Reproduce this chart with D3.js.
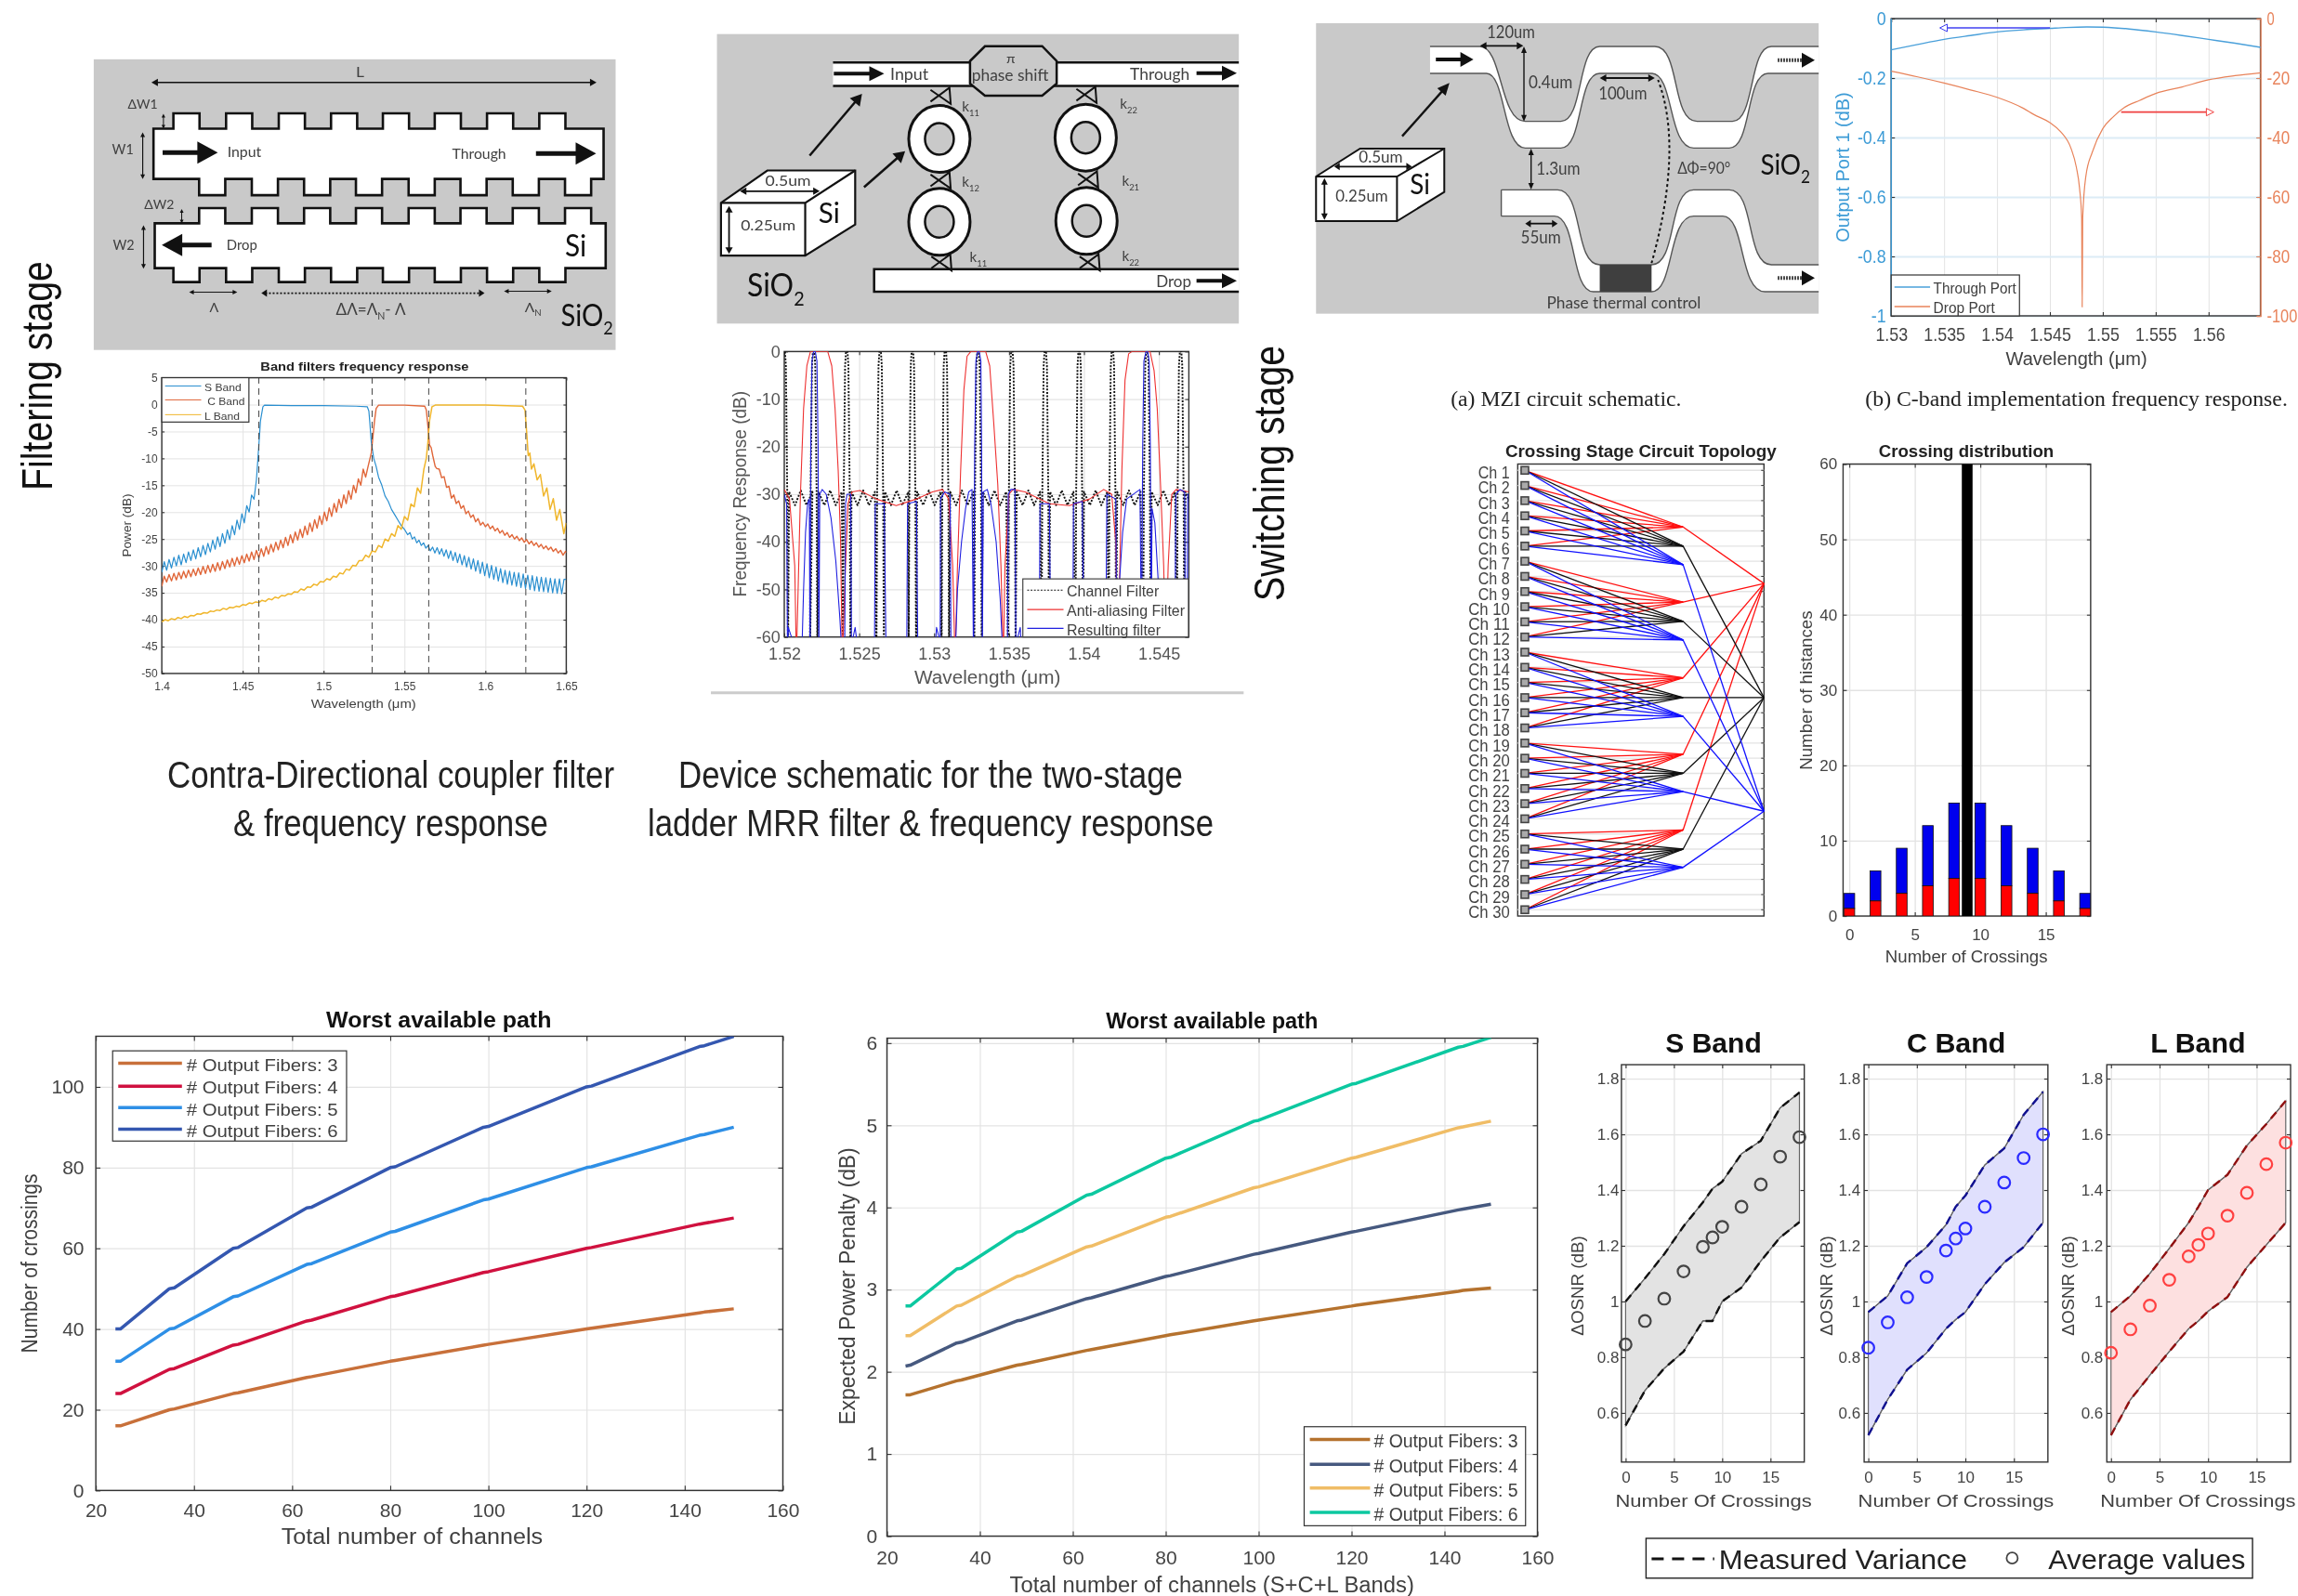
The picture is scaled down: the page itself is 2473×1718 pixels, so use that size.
<!DOCTYPE html>
<html><head><meta charset="utf-8">
<script src="https://cdnjs.cloudflare.com/ajax/libs/d3/7.8.5/d3.min.js"></script>
<style>html,body{margin:0;padding:0;background:#fff}svg{display:block;filter:blur(0.5px)}text{font-family:"Liberation Sans",Arial,sans-serif}</style>
</head><body><svg id="c" width="2473" height="1718"></svg>
<script>
// ---------- DATA ----------
const bandLegend=["S Band","C Band","L Band"];
const bandEdges=[1.46,1.53,1.565,1.625];
const sLeftRipple=[-31.2,-29.2,-30.8,-28.8,-30.4,-28.4,-30,-28,-29.8,-27.8,-29.4,-27.4,-29,-27,-28.7,-26.6,-28.3,-26.2,-27.9,-25.8,-27.4,-25.2,-26.9,-24.6,-26.4,-24,-25.8,-23.3,-25.1,-22.5,-24.2,-21.5,-23.2,-20.3,-22,-18.8,-20,-16.8,-17.6,-14];
const sMiddle=[[1.46,-7.5],[1.461,-3],[1.4625,-0.4],[1.4635,-0.1],[1.48,-0.2],[1.5,-0.2],[1.52,-0.3],[1.527,-0.4],[1.528,-1.2],[1.5285,-3],[1.5295,-7],[1.531,-10],[1.5325,-11.5],[1.534,-13.5],[1.536,-15],[1.538,-17],[1.54,-18],[1.542,-19.5],[1.544,-20.5],[1.546,-21.5],[1.548,-22.5],[1.55,-23.2]];
const sRightRipple=[-24.2,-23.8,-25,-24.6,-25.7,-25.2,-26.2,-25.7,-26.7,-26.2,-27.2,-26.5,-27.6,-26.6,-27.8,-26.8,-28.2,-27,-28.6,-27.2,-29,-27.5,-29.4,-27.8,-29.8,-28.1,-30.2,-28.4,-30.6,-28.7,-31,-29,-31.4,-29.3,-31.8,-29.6,-32.2,-29.9,-32.5,-30.2,-32.8,-30.5,-33.1,-30.8,-33.4,-31,-33.6,-31.2,-33.8,-31.3,-34,-31.5,-34.2,-31.7,-34.4,-31.8,-34.6,-32,-34.7,-32.1,-34.8,-32.2,-34.9,-32.3,-35,-32.4,-35.1,-32.4,-35.2,-32.5,-32.5];
const cLeftRipple=[-33.8,-31.9,-33,-31.6,-32.8,-31.4,-32.6,-31.2,-32.4,-31,-32.2,-30.8,-32,-30.6,-31.8,-30.4,-31.6,-30.1,-31.4,-29.9,-31.2,-29.7,-31,-29.4,-30.8,-29.2,-30.5,-28.9,-30.2,-28.6,-30,-28.4,-29.7,-28.1,-29.4,-27.8,-29.1,-27.4,-28.8,-27.1,-28.5,-26.8,-28.2,-26.4,-27.8,-26,-27.4,-25.6,-27,-25.2,-26.6,-24.7,-26.2,-24.2,-25.7,-23.7,-25.2,-23.2,-24.7,-22.6,-24.2,-22,-23.6,-21.4,-23,-20.7,-22.3,-20,-21.6,-19.2,-20.8,-18.4,-20,-17.6,-19.2,-16.8,-18.4,-16,-17.6,-15,-16.4,-13.8,-15,-12,-13.5,-11.5];
const cMiddle=[[1.5295,-9],[1.5305,-6],[1.5315,-3],[1.5325,-0.7],[1.534,-0.1],[1.55,-0.1],[1.5625,-0.3],[1.5635,-1],[1.5645,-4],[1.5655,-7.5],[1.5665,-8],[1.5675,-9.5],[1.569,-11.5]];
const cRightRipple=[-11.9,-12,-13.6,-13.4,-15.4,-15.2,-17.4,-16.8,-18.4,-17.9,-19.3,-18.8,-20.3,-19.8,-21,-20.5,-21.8,-21.2,-22.4,-21.9,-22.7,-22.2,-23.1,-22.6,-23.5,-23,-23.9,-23.4,-24.3,-23.8,-24.7,-24.2,-25,-24.5,-25.3,-24.8,-25.6,-25.1,-25.9,-25.4,-26.2,-25.7,-26.5,-26,-26.8,-26.3,-27,-26.5,-27.3,-26.8,-27.6,-27.1,-28,-27.3,-27.6];
const lLeftRipple=[-40.4,-40,-40.2,-39.8,-40,-39.6,-39.8,-39.4,-39.6,-39.2,-39.3,-38.9,-39,-38.7,-38.8,-38.4,-38.5,-38.2,-38.3,-37.9,-38.1,-37.7,-37.8,-37.5,-37.6,-37.2,-37.3,-36.9,-37,-36.7,-36.8,-36.4,-36.6,-36.1,-36.3,-35.8,-36,-35.5,-35.6,-35.2,-35.3,-34.8,-34.9,-34.3,-34.5,-33.9,-34,-33.4,-33.6,-32.9,-33,-32.4,-32.6,-31.9,-32.1,-31.3,-31.5,-30.6,-30.8,-29.9,-30,-29,-29,-28,-28.4,-27.2,-27.4,-26.2,-26.6,-25,-25.4,-24,-24.5,-22.5,-23.2,-20.8,-21.5,-18.5,-19,-15.5,-16.5,-12];
const lRest=[[1.5635,-10],[1.5645,-7],[1.5655,-3],[1.567,-0.4],[1.569,-0.1],[1.6,-0.1],[1.623,-0.3],[1.6245,-1],[1.6255,-5],[1.6265,-9.5],[1.6275,-9],[1.6285,-12],[1.63,-11],[1.632,-14],[1.634,-13],[1.636,-17],[1.638,-15.5],[1.64,-19.5],[1.642,-17.5],[1.644,-21.5],[1.646,-19.5],[1.6485,-24],[1.65,-22]];

const channelPeaks=[1.52,1.52196,1.52417,1.5264,1.52855,1.53075,1.53293,1.53519,1.53742,1.53968,1.5419,1.5442,1.54645];
const channelOffsets=[-0.00025,-0.0002,-0.00011,-0.00005,0.00005,0.00011,0.0002,0.00025,0.00032,0.00072,0.0011,0.00148,0.00188];
const channelDb=[-65,-30,-3,0,0,-3,-30,-65,-29.5,-32.3,-29.2,-32.3,-29.5];
const antiAliasX=[1.52,1.52035,1.5207,1.52081,1.52108,1.52129,1.52151,1.52175,1.5229,1.52317,1.52339,1.5236,1.52376,1.52387,1.52409,1.52425,1.52452,1.52505,1.52613,1.52747,1.52882,1.52989,1.53056,1.53097,1.53124,1.5314,1.53156,1.53177,1.53199,1.5322,1.53245,1.53344,1.53371,1.53398,1.53425,1.53446,1.53462,1.53473,1.535,1.53527,1.53607,1.53769,1.53903,1.54038,1.54132,1.54185,1.54212,1.54226,1.54236,1.54253,1.54274,1.54298,1.5432,1.54441,1.54468,1.54489,1.54511,1.54532,1.54546,1.54562,1.54586,1.54615,1.54699];
const antiAliasDb=[-29,-31,-45,-65,-30,-12,-3,0,0,-3,-12,-25,-40,-65,-45,-32,-29.5,-29.2,-31,-32.4,-31,-29.5,-29,-31,-45,-65,-45,-25,-8,-1,0,0,-3,-15,-28,-45,-65,-45,-30,-29,-29.5,-32,-32.4,-31,-29,-30,-40,-65,-50,-25,-6,-0.5,0,0,-4,-12,-28,-45,-65,-45,-30,-29,-29.5];
const resultX=[1.52,1.52016,1.52022,1.52027,1.52048,1.52065,1.52116,1.52129,1.52142,1.52156,1.52167,1.52172,1.52177,1.52185,1.52196,1.52207,1.52218,1.52226,1.52231,1.52237,1.52253,1.5228,1.52312,1.52344,1.52371,1.52387,1.52403,1.52409,1.52419,1.52444,1.52449,1.5246,1.52473,1.52489,1.525,1.52602,1.52607,1.52667,1.5268,1.52817,1.52823,1.52882,1.52892,1.53003,1.53016,1.53032,1.5304,1.53043,1.5307,1.53107,1.53113,1.5314,1.53156,1.53183,1.5321,1.53231,1.53253,1.53263,1.53271,1.53279,1.5329,1.53301,1.53312,1.53317,1.53322,1.53328,1.53355,1.53379,1.53414,1.53441,1.5346,1.53489,1.53495,1.53513,1.5354,1.53546,1.53559,1.53575,1.53586,1.53701,1.53707,1.53769,1.53779,1.53925,1.5393,1.53989,1.54,1.54145,1.54153,1.54212,1.5422,1.54234,1.54258,1.54285,1.54374,1.54384,1.54392,1.544,1.54414,1.54425,1.54435,1.54443,1.54449,1.54454,1.54473,1.54495,1.54516,1.54607,1.54613,1.54642,1.54672,1.54677,1.54688,1.54693,1.54699];
const resultDb=[-30,-32,-65,-58,-60,-65,-65,-50,-38,-32,-31,-65,-20,-2,0,0,-2,-20,-65,-30,-29,-30,-35,-44,-56,-65,-65,-32,-30,-30,-65,-60,-58,-62,-65,-65,-32,-32,-65,-65,-32,-31.5,-65,-65,-58,-60,-65,-31,-29.5,-30,-65,-65,-50,-40,-33,-29.5,-29,-65,-20,-2,0,0,-2,-20,-65,-29.5,-29,-32,-40,-52,-65,-65,-30,-29,-29,-65,-60,-58,-65,-65,-32,-32,-65,-65,-32,-31.5,-65,-65,-30,-31,-65,-50,-38,-31,-29,-65,-20,-2,0,0,-2,-20,-65,-33,-36,-48,-65,-65,-30,-29,-29.5,-65,-65,-30,-30];
const responseLegend=["Channel Filter","Anti-aliasing Filter","Resulting filter"];

const mziX=[1.53,1.5325,1.535,1.5375,1.54,1.5425,1.545,1.5465,1.5485,1.55,1.5525,1.555,1.5575,1.56,1.5625,1.565];
const throughPort=[-0.105,-0.087,-0.07,-0.057,-0.045,-0.038,-0.033,-0.03,-0.028,-0.029,-0.035,-0.045,-0.057,-0.07,-0.083,-0.097];
const dropX=[1.53,1.5325,1.535,1.5375,1.54,1.5425,1.5435,1.545,1.546,1.547,1.5475,1.5478,1.548,1.54805,1.5481,1.5484,1.549,1.55,1.551,1.552,1.5535,1.555,1.5575,1.56,1.5625,1.565];
const dropPort=[-17.7,-19.6,-21.7,-24,-26.5,-30.2,-32.3,-35,-38,-43.7,-50,-57,-67,-97,-67,-53,-45,-37,-33,-30,-27.5,-25.2,-23,-20.6,-19.2,-18.2];

const channelLabels=d3.range(1,31).map(i=>"Ch "+i);
const channelGroups=[[1,2,3,4,5,6],[7,8,9,10,11,12],[13,14,15,16,17,18],[19,20,21,22,23,24],[25,26,27,28,29,30]];
const midNodes=[[4.74,6,7.23],[9.7,10.97,12.2],[14.7,16,17.24],[19.74,21,22.2],[24.74,26,27.2]];
const outNodes=[8.47,16,23.5];
const outColors=["#ff1010","#111111","#1010ff"];

const crossBins=[0,2,4,6,8,10,12,14,16,18];
const crossRed=[1,2,3,4,5,5,4,3,2,1];
const crossBlue=[2,4,6,8,10,10,8,6,4,2];
const crossCenterBin=9, crossCenterValue=60;

const totalChannels=[24,25,35,36,48,49,63,64,80,81,99,100,120,121,143,144,150];
const crossings3=[16,16,20,20.2,24,24.2,28,28.2,32,32.2,36,36.2,40,40.2,44,44.2,45];
const crossings4=[24,24,30,30.2,36,36.2,42,42.2,48,48.2,54,54.2,60,60.2,66,66.2,67.5];
const crossings5=[32,32,40,40.2,48,48.2,56,56.2,64,64.2,72,72.2,80,80.2,88,88.2,90];
const crossings6=[40,40,50,50.2,60,60.2,70,70.2,80,80.2,90,90.2,100,100.2,110,110.2,112.5];
const penalty3=[1.72,1.72,1.89,1.9,2.08,2.09,2.26,2.27,2.44,2.45,2.62,2.63,2.8,2.81,2.98,2.99,3.02];
const penalty4=[2.07,2.08,2.35,2.36,2.62,2.63,2.89,2.9,3.16,3.17,3.43,3.44,3.7,3.71,3.97,3.98,4.04];
const penalty5=[2.44,2.44,2.8,2.81,3.16,3.17,3.52,3.53,3.88,3.89,4.24,4.25,4.6,4.61,4.97,4.98,5.05];
const penalty6=[2.8,2.8,3.25,3.26,3.7,3.71,4.15,4.16,4.6,4.61,5.05,5.06,5.5,5.51,5.95,5.96,6.07];
const fiberLabels=["# Output Fibers: 3","# Output Fibers: 4","# Output Fibers: 5","# Output Fibers: 6"];

const osnrX=[0,2,4,6,8,9,10,12,14,16,18];
const sUpper=[1,1.083,1.17,1.27,1.356,1.405,1.43,1.53,1.577,1.695,1.75];
const sLower=[0.555,0.68,0.76,0.82,0.93,0.93,1,1.05,1.145,1.23,1.285];
const sAvg=[0.846,0.93,1.01,1.108,1.196,1.23,1.268,1.34,1.42,1.52,1.59];
const cUpper=[0.962,1.02,1.137,1.195,1.275,1.34,1.38,1.49,1.55,1.67,1.753];
const cLower=[0.52,0.648,0.755,0.815,0.902,0.935,0.962,1.062,1.14,1.195,1.283];
const cAvg=[0.834,0.925,1.015,1.088,1.183,1.226,1.262,1.34,1.427,1.515,1.6];
const lUpper=[0.962,1.02,1.1,1.19,1.283,1.34,1.4,1.455,1.56,1.637,1.72];
const lLower=[0.52,0.648,0.735,0.82,0.902,0.93,0.965,1.016,1.123,1.203,1.283];
const lAvg=[0.816,0.9,0.985,1.078,1.162,1.203,1.244,1.308,1.39,1.493,1.57];

// ---------- HELPERS ----------
const svg=d3.select("#c");
svg.append("rect").attr("width",2473).attr("height",1718).attr("fill","#fff");
const crop=(ox,oy,w,h,zw,zh)=>({X:d3.scaleLinear().domain([0,zw]).range([ox,ox+w]),Y:d3.scaleLinear().domain([0,zh]).range([oy,oy+h])});
const c1=crop(0,30,700,780,1568,1568),c2=crop(700,10,680,760,1568,1568),c3=crop(1380,0,1093,450,1568,1350),
      c4=crop(1530,460,750,590,1568,1568),c5=crop(0,1070,860,648,1568,1568),c6=crop(880,1070,800,648,1568,1568),c7=crop(1690,1090,783,628,1568,1568);
const TXT="#404040";
function fillSegs(t,segs,size){
  if(typeof segs==="string"){t.text(segs);return;}
  let prev=false;
  segs.forEach(([s,sub])=>{
    const ts=t.append("tspan").text(s);
    if(sub){ts.attr("font-size",size*0.62).attr("dy",size*0.3);}
    else if(prev){ts.attr("dy",-size*0.3);}
    prev=!!sub;
  });
}
function T(c,str,x0,x1,y,size,o={}){
  const t=svg.append("text").attr("x",c.X(x0)).attr("y",c.Y(y)).attr("dy","0.35em").attr("font-size",size)
    .attr("fill",o.fill||TXT).attr("font-weight",o.weight||null).style("font-family",o.family||null);
  if(x1!=null)t.attr("textLength",c.X(x1)-c.X(x0)).attr("lengthAdjust","spacingAndGlyphs");
  fillSegs(t,str,size);return t;
}
function RT(c,str,x,y0,y1,size,o={}){
  const cx=c.X(x),cy=(c.Y(y0)+c.Y(y1))/2;
  const t=svg.append("text").attr("transform",`translate(${cx},${cy}) rotate(-90)`).attr("text-anchor","middle").attr("dy","0.35em")
    .attr("font-size",size).attr("fill",o.fill||TXT).attr("font-weight",o.weight||null)
    .attr("textLength",Math.abs(c.Y(y1)-c.Y(y0))).attr("lengthAdjust","spacingAndGlyphs").text(str);
  return t;
}
function P(c,s){let i=0;return s.split(/\s+/).map(k=>{if(/[A-Za-z]/.test(k))return k;const v=(i++%2===0)?c.X(+k):c.Y(+k);return v.toFixed(2);}).join(" ");}
function arrow(c,x1,y1,x2,y2,o={}){
  const a={x:c.X(x1),y:c.Y(y1)},b={x:c.X(x2),y:c.Y(y2)};
  const col=o.color||"#111",sw=o.sw||1.5,hl=o.hl||7,hw=o.hw||3.5;
  const L=Math.hypot(b.x-a.x,b.y-a.y),ux=(b.x-a.x)/L,uy=(b.y-a.y)/L,nx=-uy,ny=ux;
  const inset=o.hollow?hl:hl*0.7;
  const s={x:o.both?a.x+ux*inset:a.x,y:o.both?a.y+uy*inset:a.y},e={x:b.x-ux*inset,y:b.y-uy*inset};
  const ln=svg.append("line").attr("x1",s.x).attr("y1",s.y).attr("x2",e.x).attr("y2",e.y).attr("stroke",col).attr("stroke-width",sw);
  if(o.dash)ln.attr("stroke-dasharray",o.dash);
  const head=(p,ux,uy,nx,ny)=>{
    svg.append("polygon").attr("points",[[p.x,p.y],[p.x-ux*hl+nx*hw,p.y-uy*hl+ny*hw],[p.x-ux*hl-nx*hw,p.y-uy*hl-ny*hw]].map(q=>q.join(",")).join(" "))
      .attr("fill",o.hollow?"#fff":col).attr("stroke",o.hollow?col:"none");
  };
  head(b,ux,uy,nx,ny);
  if(o.both)head(a,-ux,-uy,nx,ny);
}
let clipN=0;
function plot(c,[x0,x1,y0,y1],xd,yd,o){
  const x=d3.scaleLinear().domain(xd).range([c.X(x0),c.X(x1)]);
  const y=d3.scaleLinear().domain(yd).range([c.Y(y1),c.Y(y0)]);
  const h=y.range()[0]-y.range()[1],w=x.range()[1]-x.range()[0];
  const g=svg.append("g"),f=o.size||12,tl=o.tick||4,grid=o.grid||"#e3e3e3",axc=o.axis||"#333",lab=o.label||"#444";
  const id="clip"+(clipN++);
  svg.append("clipPath").attr("id",id).append("rect").attr("x",x.range()[0]).attr("y",y.range()[1]).attr("width",w).attr("height",h);
  const fmt=d=>String(d);
  if(o.xt)g.append("g").attr("transform",`translate(0,${y.range()[0]})`).call(d3.axisBottom(x).tickValues(o.xt).tickSize(-h).tickFormat("")).call(s=>{s.select(".domain").remove();s.selectAll("line").attr("stroke",grid).attr("stroke-width",o.gw||1.3);});
  if(o.yt)g.append("g").attr("transform",`translate(${x.range()[0]},0)`).call(d3.axisLeft(y).tickValues(o.yt).tickSize(-w).tickFormat("")).call(s=>{s.select(".domain").remove();s.selectAll("line").attr("stroke",o.gridY||grid).attr("stroke-width",o.gwY||o.gw||1.3);});
  g.append("rect").attr("x",x.range()[0]).attr("y",y.range()[1]).attr("width",w).attr("height",h).attr("fill","none").attr("stroke",axc).attr("stroke-width",o.bw||1.4);
  const sty=(s,col)=>{s.select(".domain").remove();s.selectAll("line").attr("stroke",axc).attr("stroke-width",1.1);s.selectAll("text").attr("fill",col).attr("font-size",f).style("font-family","'Liberation Sans'");};
  const squeeze=s=>{if(o.squeeze)s.selectAll("text").each(function(){const n=this.getComputedTextLength();if(n>0)d3.select(this).attr("textLength",n*o.squeeze).attr("lengthAdjust","spacingAndGlyphs");});};
  if(o.xt){
    const pad=c.Y(o.xLabelY)-y.range()[0]-0.35*f;
    g.append("g").attr("transform",`translate(0,${y.range()[0]})`).call(d3.axisBottom(x).tickValues(o.xt).tickSize(-tl).tickPadding(pad).tickFormat(fmt)).call(s=>sty(s,o.xLabel||lab)).call(squeeze);
    g.append("g").attr("transform",`translate(0,${y.range()[1]})`).call(d3.axisTop(x).tickValues(o.xt).tickSize(-tl).tickFormat("")).call(s=>sty(s,lab));
  }
  if(o.yt){
    const pad=x.range()[0]-c.X(o.yLabelX);
    g.append("g").attr("transform",`translate(${x.range()[0]},0)`).call(d3.axisLeft(y).tickValues(o.yt).tickSize(-tl).tickPadding(pad).tickFormat(fmt)).call(s=>sty(s,lab)).call(squeeze);
    g.append("g").attr("transform",`translate(${x.range()[1]},0)`).call(d3.axisRight(y).tickValues(o.yt).tickSize(-tl).tickFormat("")).call(s=>sty(s,lab));
  }
  return {x,y,g,id,clip:`url(#${id})`};
}
function drawLine(p,pts,col,w,o={}){
  const l=d3.line().x(d=>p.x(d[0])).y(d=>p.y(d[1]));
  if(o.curve)l.curve(o.curve);
  const e=p.g.append("path").attr("d",l(pts)).attr("fill","none").attr("stroke",col).attr("stroke-width",w).attr("stroke-linejoin","round").attr("clip-path",o.noclip?null:p.clip);
  if(o.dash)e.attr("stroke-dasharray",o.dash);
  if(o.op)e.attr("opacity",o.op);
  return e;
}
function legend(c,[x0,x1,y0,y1],rows,lx0,lx1,tx,tx1s,size,colors,w,o={}){
  svg.append("rect").attr("x",c.X(x0)).attr("y",c.Y(y0)).attr("width",c.X(x1)-c.X(x0)).attr("height",c.Y(y1)-c.Y(y0)).attr("fill","#fff").attr("stroke",o.stroke||"#333").attr("stroke-width",1.2);
  rows.forEach((r,i)=>{
    const ln=svg.append("line").attr("x1",c.X(lx0)).attr("x2",c.X(lx1)).attr("y1",c.Y(r.y)).attr("y2",c.Y(r.y)).attr("stroke",colors[i]).attr("stroke-width",w);
    if(o.dash&&o.dash[i])ln.attr("stroke-dasharray",o.dash[i]);
    T(c,r.t,r.tx??tx,r.tx1??tx1s,r.y+(o.ty||3),size,{fill:o.fill});
  });
}
const zipRun=(start,step,ys)=>ys.map((v,i)=>[start+i*step,v]);

// ---------- SIDE LABELS / CAPTIONS ----------
const cp=crop(0,0,2473,1718,2473,1718);
RT(cp,"Filtering stage",40,281,528,46,{fill:"#111"});
RT(cp,"Switching stage",1366,372,647,46,{fill:"#111"});
T(cp,"Contra-Directional coupler filter",180,661,834,40,{fill:"#222"});
T(cp,"& frequency response",251,590,886,40,{fill:"#222"});
T(cp,"Device schematic for the two-stage",730,1273,834,40,{fill:"#222"});
T(cp,"ladder MRR filter & frequency response",697,1306,886,40,{fill:"#222"});
const SERIF="'Liberation Serif',serif";
T(c3,"(a) MZI circuit schematic.",260,616,1285,24,{fill:"#222",family:SERIF});
T(c3,"(b) C-band implementation frequency response.",900,1552,1285,24,{fill:"#222",family:SERIF});

// ---------- A: grating coupler schematic ----------
const LATO="Lato,'Open Sans',sans-serif",GRAY="#c9c9c9",INK="#111";
svg.append("rect").attr("x",c1.X(226)).attr("y",c1.Y(68)).attr("width",c1.X(1484)-c1.X(226)).attr("height",c1.Y(697)-c1.Y(68)).attr("fill",GRAY);
const teethA=[418,545,672,798,923,1048,1174,1300],teethB=[480,607,733,858,985,1110,1236,1362];
function guide(xl,xr,yt,yb,topT,ttop,botT,tbot){
  let s=`M ${xl} ${yt} `;
  topT.forEach(t=>{s+=`L ${t} ${yt} L ${t} ${ttop} L ${t+63} ${ttop} L ${t+63} ${yt} `;});
  s+=`L ${xr} ${yt} L ${xr} ${yb} `;
  [...botT].reverse().forEach(t=>{s+=`L ${t+63} ${yb} L ${t+63} ${tbot} L ${t} ${tbot} L ${t} ${yb} `;});
  s+=`L ${xl} ${yb} Z`;
  svg.append("path").attr("d",P(c1,s)).attr("fill","#fff").attr("stroke",INK).attr("stroke-width",2.6);
}
guide(370,1455,218,327,teethA,185,teethB,362);
guide(373,1460,423,520,teethB,390,teethA,550);
arrow(c1,365,118,1438,118,{both:true,sw:1.6,hl:7,hw:4});
T(c1,"L",858,878,95,16,{family:LATO});
T(c1,"ΔW1",308,380,165,14,{family:LATO});
T(c1,"W1",270,322,262,15,{family:LATO});
T(c1,"ΔW2",348,420,382,14,{family:LATO});
T(c1,"W2",272,324,470,15,{family:LATO});
arrow(c1,394,186,394,218,{both:true,sw:1,hl:4,hw:2});
arrow(c1,344,226,344,327,{both:true,sw:1.2,hl:5,hw:2.5});
arrow(c1,438,392,438,423,{both:true,sw:1,hl:4,hw:2});
arrow(c1,346,427,346,521,{both:true,sw:1.2,hl:5,hw:2.5});
arrow(c1,392,270,525,270,{sw:5,hl:22,hw:12});
arrow(c1,1292,272,1437,272,{sw:5,hl:22,hw:12});
arrow(c1,510,470,390,470,{sw:5,hl:22,hw:12});
T(c1,"Input",548,630,269,15,{family:LATO});
T(c1,"Through",1090,1220,272,15,{family:LATO});
T(c1,"Drop",546,620,470,15,{family:LATO});
T(c1,"Si",1362,1414,472,33,{family:LATO,fill:"#111"});
T(c1,[["SiO"],["2",1]],1352,1478,622,32,{family:LATO,fill:"#111"});
arrow(c1,456,572,572,572,{both:true,sw:1,hl:5,hw:2.5});
arrow(c1,630,574,1168,574,{both:true,sw:1.8,hl:6,hw:4,dash:"2 2"});
arrow(c1,1215,570,1330,570,{both:true,sw:1,hl:5,hw:2.5});
T(c1,"Λ",505,527,605,14,{family:LATO});
T(c1,[["ΔΛ=Λ"],["N",1],["- Λ"]],810,978,608,18,{family:LATO});
T(c1,[["Λ"],["N",1]],1265,1305,605,14,{family:LATO});

// ---------- A2: band filters ----------
T(c1,"Band filters frequency response",628,1130,733,13,{weight:"bold",fill:"#222"});
const pBand=plot(c1,[390,1365,757,1397],[1.4,1.65],[-50,5],{xt:[1.4,1.45,1.5,1.55,1.6,1.65],yt:d3.range(-50,6,5),size:12,xLabelY:1425,yLabelX:380,tick:3,gw:1});
const sBand=[...zipRun(1.4,0.0015,sLeftRipple),...sMiddle,...zipRun(1.552,0.0014,sRightRipple)];
const cBand=[...zipRun(1.4,0.0015,cLeftRipple),...cMiddle,...zipRun(1.57,0.0015,cRightRipple)];
const lBand=[...zipRun(1.4,0.002,lLeftRipple),...lRest];
drawLine(pBand,sBand,"#2a8fd0",1.2);
drawLine(pBand,cBand,"#e0673a",1.4);
drawLine(pBand,lBand,"#f0b62c",1.5);
bandEdges.forEach(v=>drawLine(pBand,[[v,-50],[v,5]],"#444",1,{dash:"7 5"}));
legend(c1,[390,600,757,853],[{y:775,t:bandLegend[0],tx:493,tx1:582},{y:805,t:bandLegend[1],tx:500,tx1:590},{y:837,t:bandLegend[2],tx:493,tx1:578}],398,485,493,582,10.5,["#2a8fd0","#e0673a","#f0b62c"],1);
RT(c1,"Power (dB)",305,1008,1145,13);
T(c1,"Wavelength (μm)",750,1003,1462,13.5);

// ---------- B: MRR schematic ----------
svg.append("rect").attr("x",c2.X(165)).attr("y",c2.Y(55)).attr("width",c2.X(1460)-c2.X(165)).attr("height",c2.Y(698)-c2.Y(55)).attr("fill",GRAY);
const wgLine=(s,w=2.5)=>svg.append("path").attr("d",P(c2,s)).attr("fill","none").attr("stroke",INK).attr("stroke-width",w);
svg.append("rect").attr("x",c2.X(453)).attr("y",c2.Y(118)).attr("width",c2.X(1460)-c2.X(453)).attr("height",c2.Y(170)-c2.Y(118)).attr("fill","#fff");
wgLine("M 453 118 L 1460 118"); wgLine("M 453 170 L 1460 170");
svg.append("path").attr("d",P(c2,"M 793 115 L 830 82 L 972 82 L 1008 115 L 1008 165 L 972 192 L 830 192 L 793 165 Z")).attr("fill",GRAY).attr("stroke",INK).attr("stroke-width",2.5);
svg.append("rect").attr("x",c2.X(555)).attr("y",c2.Y(577)).attr("width",c2.X(1460)-c2.X(555)).attr("height",c2.Y(627)-c2.Y(577)).attr("fill","#fff");
wgLine("M 1460 577 L 555 577 L 555 627 L 1460 627");
[[717,288],[717,472],[1080,285],[1082,470]].forEach(([a,b])=>{
  svg.append("ellipse").attr("cx",c2.X(a)).attr("cy",c2.Y(b)).attr("rx",33).attr("ry",36).attr("fill","#fff").attr("stroke",INK).attr("stroke-width",3);
  svg.append("ellipse").attr("cx",c2.X(a)).attr("cy",c2.Y(b)).attr("rx",15.5).attr("ry",17).attr("fill",GRAY).attr("stroke",INK).attr("stroke-width",2.5);
});
[[720,192],[720,380],[722,562],[1082,190],[1086,378],[1090,562]].forEach(([a,b])=>{
  wgLine(`M ${a-25} ${b-13} L ${a+25} ${b+18} L ${a+22} ${b-18} L ${a-25} ${b+13}`,2);
});
arrow(c2,455,143,580,143,{sw:4,hl:16,hw:8});
arrow(c2,1355,142,1455,142,{sw:4,hl:16,hw:8});
arrow(c2,1355,603,1455,603,{sw:4,hl:16,hw:8});
arrow(c2,395,325,525,188,{sw:2.5,hl:12,hw:7});
arrow(c2,530,395,632,315,{sw:2.5,hl:12,hw:7});
T(c2,"Input",595,690,143,18,{family:LATO});
T(c2,"π",883,905,110,14,{family:LATO});
T(c2,"phase shift",797,988,145,18,{family:LATO});
T(c2,"Through",1190,1338,143,18,{family:LATO});
T(c2,"Drop",1255,1342,604,18,{family:LATO});
[["11",773,215],["12",773,382],["11",792,550],["22",1165,210],["21",1170,380],["22",1170,548]].forEach(([s,a,b])=>T(c2,[["k"],[s,1]],a,a+43,b,16,{family:LATO}));
svg.append("path").attr("d",P(c2,"M 175 430 L 290 358 L 508 358 L 508 478 L 384 547 L 175 547 Z")).attr("fill","#fff").attr("stroke",INK).attr("stroke-width",2.2);
wgLine("M 175 430 L 384 430 L 508 358 M 384 430 L 384 547",2.2);
arrow(c2,222,404,420,404,{both:true,sw:1.8,hl:7,hw:4});
arrow(c2,195,437,195,543,{both:true,sw:1.8,hl:7,hw:4});
T(c2,"0.5um",285,398,380,16,{family:LATO});
T(c2,"0.25um",224,360,480,16,{family:LATO});
T(c2,"Si",417,470,452,31,{family:LATO,fill:"#111"});
T(c2,[["SiO"],["2",1]],240,382,612,34,{family:LATO,fill:"#111"});

// ---------- B2: ladder MRR response ----------
const pResp=plot(c2,[332,1336,760,1394],[1.52,1.547],[-60,0],{xt:[1.52,1.525,1.53,1.535,1.54,1.545],yt:d3.range(-60,1,10),size:18,xLabelY:1430,yLabelX:322,tick:4,gw:1.2,label:"#555"});
const channelFilter=channelPeaks.flatMap(c=>channelOffsets.map((o,i)=>[c+o,channelDb[i]]));
drawLine(pResp,channelFilter,"#111",1.9,{dash:"2 1.6"});
drawLine(pResp,antiAliasX.map((v,i)=>[v,antiAliasDb[i]]),"#ee3030",1.1);
drawLine(pResp,resultX.map((v,i)=>[v,resultDb[i]]),"#2020e0",1.1);
legend(c2,[924,1335,1265,1394],[{y:1290,t:responseLegend[0],tx:1033,tx1:1262},{y:1333,t:responseLegend[1],tx:1033,tx1:1326},{y:1375,t:responseLegend[2],tx:1033,tx1:1266}],935,1025,1033,1262,16.5,["#111","#ee3030","#2020e0"],1.2,{dash:["2 1.6",null,null],stroke:"#444"});
RT(c2,"Frequency Response (dB)",222,848,1305,20,{fill:"#555"});
T(c2,"Wavelength (μm)",655,1018,1483,20,{fill:"#555"});
svg.append("line").attr("x1",c2.X(150)).attr("x2",c2.X(1472)).attr("y1",c2.Y(1518)).attr("y2",c2.Y(1518)).attr("stroke","#ccc").attr("stroke-width",3);

// ---------- C: MZI schematic ----------
svg.append("rect").attr("x",c3.X(52)).attr("y",c3.Y(75)).attr("width",c3.X(828)-c3.X(52)).attr("height",c3.Y(1013)-c3.Y(75)).attr("fill",GRAY);
const up1="M 228 150 L 305 150 C 340 150 335 392 375 392 L 430 392 C 465 392 455 150 490 150 L 575 150 C 615 150 600 392 640 392 L 695 392 C 730 392 720 150 755 150 L 828 150";
const lo1="L 828 237 L 750 237 C 715 237 725 478 690 478 L 635 478 C 595 478 605 237 570 237 L 490 237 C 455 237 465 478 430 478 L 375 478 C 340 478 345 237 315 237 L 228 237";
const up2="M 338 613 L 425 613 C 465 613 450 855 490 855 L 570 855 C 610 855 595 613 635 613 L 690 613 C 730 613 715 855 755 855 L 828 855";
const lo2="L 828 942 L 745 942 C 705 942 715 698 680 698 L 635 698 C 595 698 605 942 570 942 L 480 942 C 445 942 455 698 420 698 L 338 698";
[[up1,lo1,false],[up2,lo2,true]].forEach(([u,l,closeLeft])=>{
  svg.append("path").attr("d",P(c3,u+" "+l+" Z")).attr("fill","#fff");
  svg.append("path").attr("d",P(c3,u)).attr("fill","none").attr("stroke","#555").attr("stroke-width",1.4);
  svg.append("path").attr("d",P(c3,"M "+l.slice(2))).attr("fill","none").attr("stroke","#555").attr("stroke-width",1.4);
  if(closeLeft)svg.append("path").attr("d",P(c3,"M 338 613 L 338 698")).attr("stroke","#555").attr("stroke-width",1.4);
});
svg.append("rect").attr("x",c3.X(490)).attr("y",c3.Y(855)).attr("width",c3.X(570)-c3.X(490)).attr("height",c3.Y(942)-c3.Y(855)).attr("fill","#3f3f3f");
arrow(c3,237,192,295,192,{sw:4,hl:14,hw:8});
arrow(c3,765,194,822,194,{sw:4,hl:14,hw:8,dash:"1.5 1.5"});
arrow(c3,765,898,822,898,{sw:4,hl:14,hw:8,dash:"1.5 1.5"});
arrow(c3,305,148,372,148,{both:true,sw:1.8,hl:7,hw:4});
arrow(c3,373,150,373,392,{both:true,sw:1.4,hl:7,hw:3});
arrow(c3,490,252,575,252,{both:true,sw:1.8,hl:7,hw:4});
arrow(c3,384,480,384,612,{both:true,sw:1.4,hl:7,hw:3});
arrow(c3,375,722,425,722,{both:true,sw:1.8,hl:6,hw:4});
arrow(c3,185,440,258,268,{sw:2.4,hl:13,hw:6});
svg.append("path").attr("d",P(c3,"M 570 850 C 590 700 615 450 580 258")).attr("fill","none").attr("stroke",INK).attr("stroke-width",2).attr("stroke-dasharray","3 3");
T(c3,"120um",316,390,103,19,{family:LATO});
T(c3,"0.4um",380,448,264,19,{family:LATO});
T(c3,"100um",488,563,302,19,{family:LATO});
T(c3,"1.3um",392,460,545,19,{family:LATO});
T(c3,"55um",368,430,765,19,{family:LATO});
T(c3,"ΔΦ=90°",610,692,542,17,{family:LATO});
T(c3,[["SiO"],["2",1]],738,815,530,31,{family:LATO,fill:"#111"});
T(c3,"Phase thermal control",408,646,977,17,{family:LATO});
svg.append("path").attr("d",P(c3,"M 52 570 L 120 480 L 250 480 L 250 620 L 177 714 L 52 714 Z")).attr("fill","#fff").attr("stroke",INK).attr("stroke-width",2);
svg.append("path").attr("d",P(c3,"M 52 570 L 177 570 L 250 480 M 177 570 L 177 714")).attr("fill","none").attr("stroke",INK).attr("stroke-width",2);
arrow(c3,80,538,200,538,{both:true,sw:1.8,hl:6,hw:4});
arrow(c3,65,575,65,710,{both:true,sw:1.8,hl:7,hw:3.5});
T(c3,"0.5um",118,186,508,17,{family:LATO});
T(c3,"0.25um",82,163,633,17,{family:LATO});
T(c3,"Si",197,228,595,30,{family:LATO,fill:"#111"});

// ---------- D: C-band response ----------
const BLUEAX="#3c9bd6",ORAX="#e8845c";
const pMzi=plot(c3,[940,1510,60,1020],[1.53,1.5649],[-1,0],{xt:[1.53,1.535,1.54,1.545,1.55,1.555,1.56],yt:[-1,-0.8,-0.6,-0.4,-0.2,0],size:21,squeeze:0.85,xLabelY:1077,yLabelX:932,tick:4,label:BLUEAX,xLabel:"#444",gw:1,gridY:"#dcebf6",gwY:2});
const yRight=d3.scaleLinear().domain([-100,0]).range(pMzi.y.range());
pMzi.g.append("g").attr("transform",`translate(${pMzi.x.range()[1]},0)`).call(d3.axisRight(yRight).tickValues([-100,-80,-60,-40,-20,0]).tickSize(-4).tickPadding(c3.X(1520)-c3.X(1510)).tickFormat(d=>String(d)))
  .call(s=>{s.select(".domain").attr("stroke",ORAX).attr("stroke-width",1.4);s.selectAll("line").attr("stroke",ORAX);s.selectAll("text").attr("fill",ORAX).attr("font-size",21).style("font-family","'Liberation Sans'").each(function(d){d3.select(this).attr("textLength",this.textContent.length*8.2).attr("lengthAdjust","spacingAndGlyphs");});});
pMzi.g.append("line").attr("x1",pMzi.x.range()[0]).attr("x2",pMzi.x.range()[0]).attr("y1",pMzi.y.range()[0]).attr("y2",pMzi.y.range()[1]).attr("stroke",BLUEAX).attr("stroke-width",1.4);
drawLine(pMzi,mziX.map((v,i)=>[v,throughPort[i]]),"#4aa0da",1.4,{curve:d3.curveMonotoneX});
const yDrop=v=>v/100;
drawLine(pMzi,dropX.map((v,i)=>[v,yDrop(dropPort[i])]),"#e8835a",1.2,{curve:d3.curveMonotoneX});
arrow(c3,1185,90,1015,90,{sw:1.6,hl:8,hw:4,color:"#4040f0",hollow:true});
arrow(c3,1295,362,1438,362,{sw:1.6,hl:8,hw:4,color:"#f04040",hollow:true});
legend(c3,[940,1138,888,1020],[{y:927,t:"Through Port",tx:1005,tx1:1133},{y:990,t:"Drop Port",tx:1005,tx1:1100}],945,1000,1005,1133,16,["#4aa0da","#e8835a"],1.4,{ty:0});
RT(c3,"Output Port 1 (dB)",865,298,782,20,{fill:BLUEAX});
T(c3,"Wavelength (μm)",1117,1335,1157,20);

// ---------- E: crossing topology ----------
T(c4,"Crossing Stage Circuit Topology",188,798,67,18,{weight:"bold",fill:"#222"});
const pTop=plot(c4,[216,770,105,1398],[-0.0307,1],[1,30],{size:16,tick:4});
pTop.y.domain([30+(1398-1380)/43.34,1-(123-105)/43.34]).range([c4.Y(1398),c4.Y(105)]);
const topoX=pTop.x.copy().domain([0,1]).range([c4.X(232),c4.X(770)]);
const midX=0.6617;
channelLabels.forEach((s,i)=>{
  pTop.g.append("line").attr("x1",c4.X(216)).attr("x2",c4.X(770)).attr("y1",pTop.y(i+1)).attr("y2",pTop.y(i+1)).attr("stroke","#e3e3e3").attr("stroke-width",1.4);
  pTop.g.append("line").attr("x1",c4.X(770)-3).attr("x2",c4.X(770)).attr("y1",pTop.y(i+1)).attr("y2",pTop.y(i+1)).attr("stroke","#333");
  svg.append("text").attr("x",c4.X(198)).attr("y",pTop.y(i+1)).attr("dy","0.5em").attr("text-anchor","end").attr("font-size",17.5).attr("fill","#444").attr("textLength",(i<9?34:44.5)).attr("lengthAdjust","spacingAndGlyphs").text(s);
});
const topoLine=d3.line().x(d=>topoX(d[0])).y(d=>pTop.y(d[1]));
[0,1,2].forEach(k=>{
  channelGroups.forEach((grp,gi)=>{
    grp.forEach(ch=>pTop.g.append("path").attr("d",topoLine([[0,ch],[midX,midNodes[gi][k]]])).attr("stroke",outColors[k]).attr("stroke-width",1.3).attr("fill","none"));
    pTop.g.append("path").attr("d",topoLine([[midX,midNodes[gi][k]],[1,outNodes[k]]])).attr("stroke",outColors[k]).attr("stroke-width",1.3).attr("fill","none");
  });
});
channelLabels.forEach((s,i)=>{
  pTop.g.append("rect").attr("x",topoX(0)-4).attr("y",pTop.y(i+1)-4).attr("width",8).attr("height",8).attr("fill","#aaa").attr("stroke","#444").attr("stroke-width",1.6);
});

// ---------- E2: crossing distribution ----------
T(c4,"Crossing distribution",1028,1422,67,18,{weight:"bold",fill:"#222"});
const pHist=plot(c4,[948,1505,105,1398],[-0.475,18.425],[0,60],{xt:[0,5,10,15],yt:[0,10,20,30,40,50,60],size:17,xLabelY:1450,yLabelX:935,tick:4});
const barW=pHist.x(0.82)-pHist.x(0);
const barG=pHist.g.append("g").attr("clip-path",pHist.clip);
crossBins.forEach((b,i)=>{
  barG.append("rect").attr("x",pHist.x(b)-barW/2).attr("width",barW).attr("y",pHist.y(crossRed[i]+crossBlue[i])).attr("height",pHist.y(crossRed[i])-pHist.y(crossRed[i]+crossBlue[i])).attr("fill","#0000ee").attr("stroke","#111").attr("stroke-width",0.8);
  barG.append("rect").attr("x",pHist.x(b)-barW/2).attr("width",barW).attr("y",pHist.y(crossRed[i])).attr("height",pHist.y(0)-pHist.y(crossRed[i])).attr("fill","#ff0000").attr("stroke","#111").attr("stroke-width",0.8);
});
barG.append("rect").attr("x",pHist.x(crossCenterBin)-barW/2).attr("width",barW).attr("y",pHist.y(crossCenterValue)).attr("height",pHist.y(0)-pHist.y(crossCenterValue)).attr("fill","#000");
RT(c4,"Number of histances",865,525,980,18);
T(c4,"Number of Crossings",1043,1408,1515,18);

// ---------- F: crossings vs channels ----------
const pF=plot(c5,[188,1536,110,1293],[20,160],[0,112.55],{xt:d3.range(20,161,20),yt:d3.range(0,101,20),size:21,xLabelY:1345,yLabelX:165,tick:5,gw:1.2});
const colF=["#c8703a","#d0113f","#2e8fe6","#3457b0"];
[crossings3,crossings4,crossings5,crossings6].forEach((s,k)=>drawLine(pF,totalChannels.map((v,i)=>[v,s[i]]),colF[k],3.5,{}));
T(c5,"Worst available path",640,1082,67,23.5,{weight:"bold",fill:"#111"});
T(c5,"Total number of channels",552,1065,1413,23);
RT(c5,"Number of crossings",58,468,935,23);
legend(c5,[221,680,148,383],fiberLabels.map((t,i)=>({y:[180,240,296,352][i],t})),232,357,366,663,19,colF,3.5,{ty:4});

// ---------- G: penalty vs channels ----------
const pG=plot(c6,[146,1518,115,1412],[20,160],[0,6.06],{xt:d3.range(20,161,20),yt:d3.range(0,7,1),size:21,xLabelY:1468,yLabelX:126,tick:5,gw:1.2});
const colG=["#b5722e","#46597f","#f0bd66","#0cc8a0"];
[penalty3,penalty4,penalty5,penalty6].forEach((s,k)=>drawLine(pG,totalChannels.map((v,i)=>[v,s[i]]),colG[k],3.5,{}));
T(c6,"Worst available path",608,1055,70,23.5,{weight:"bold",fill:"#111"});
T(c6,"Total number of channels (S+C+L Bands)",405,1258,1540,23);
RT(c6,"Expected Power Penalty (dB)",62,400,1122,23);
legend(c6,[1026,1493,1127,1385],fiberLabels.map((t,i)=>({y:[1160,1225,1287,1350][i],t})),1038,1165,1173,1477,19.5,colG,3.5,{ty:5});

// ---------- H: OSNR panels ----------
const osnrYT=[0.6,0.8,1,1.2,1.4,1.6,1.8];
[
 {box:[110,504],title:"S Band",tx:[205,412],fill:"#e3e3e3",dark:"#111",mark:"#444",up:sUpper,lo:sLower,avg:sAvg,yl:105,yr:15,xl:[97,520]},
 {box:[633,1029],title:"C Band",tx:[725,938],fill:"#e0e0fd",dark:"#101090",mark:"#2a2aff",up:cUpper,lo:cLower,avg:cAvg,yl:625,yr:552,xl:[620,1042]},
 {box:[1156,1552],title:"L Band",tx:[1250,1455],fill:"#fde0e0",dark:"#901010",mark:"#ff4040",up:lUpper,lo:lLower,avg:lAvg,yl:1148,yr:1073,xl:[1142,1563]}
].forEach(d=>{
  const p=plot(c7,[d.box[0],d.box[1],140,1208],[-0.43,18.5],[0.4236,1.85],{xt:[0,5,10,15],yt:osnrYT,size:17,xLabelY:1248,yLabelX:d.yl,tick:4});
  p.g.insert("path","rect").attr("d",d3.area().x((v,i)=>p.x(osnrX[i])).y0((v,i)=>p.y(d.lo[i])).y1(v=>p.y(v))(d.up)).attr("fill",d.fill).attr("stroke","#666").attr("stroke-width",1.2);
  const ptsU=osnrX.map((v,i)=>[v,d.up[i]]),ptsL=osnrX.map((v,i)=>[v,d.lo[i]]);
  [ptsU,ptsL].forEach(s=>{drawLine(p,s,"#666",1.2,{noclip:true});drawLine(p,s,d.dark,2.4,{dash:"9 7",noclip:true});});
  osnrX.forEach((v,i)=>p.g.append("circle").attr("cx",p.x(v)).attr("cy",p.y(d.avg[i])).attr("r",6.3).attr("fill","none").attr("stroke",d.mark).attr("stroke-width",2.2));
  T(c7,d.title,d.tx[0],d.tx[1],80,30,{weight:"bold",fill:"#111"});
  RT(c7,"ΔOSNR (dB)",d.yr,600,868,18);
  T(c7,"Number Of Crossings",d.xl[0],d.xl[1],1312,18.5);
});
svg.append("rect").attr("x",c7.X(163)).attr("y",c7.Y(1413)).attr("width",c7.X(1470)-c7.X(163)).attr("height",c7.Y(1520)-c7.Y(1413)).attr("fill","#fff").attr("stroke","#222").attr("stroke-width",1.4);
svg.append("line").attr("x1",c7.X(175)).attr("x2",c7.X(310)).attr("y1",c7.Y(1468)).attr("y2",c7.Y(1468)).attr("stroke","#111").attr("stroke-width",3).attr("stroke-dasharray","13 9");
T(c7,"Measured Variance",320,855,1470,29,{fill:"#222"});
svg.append("circle").attr("cx",c7.X(952)).attr("cy",c7.Y(1466)).attr("r",6).attr("fill","none").attr("stroke","#444").attr("stroke-width",1.8);
T(c7,"Average values",1030,1455,1470,29,{fill:"#222"});
</script></body></html>
